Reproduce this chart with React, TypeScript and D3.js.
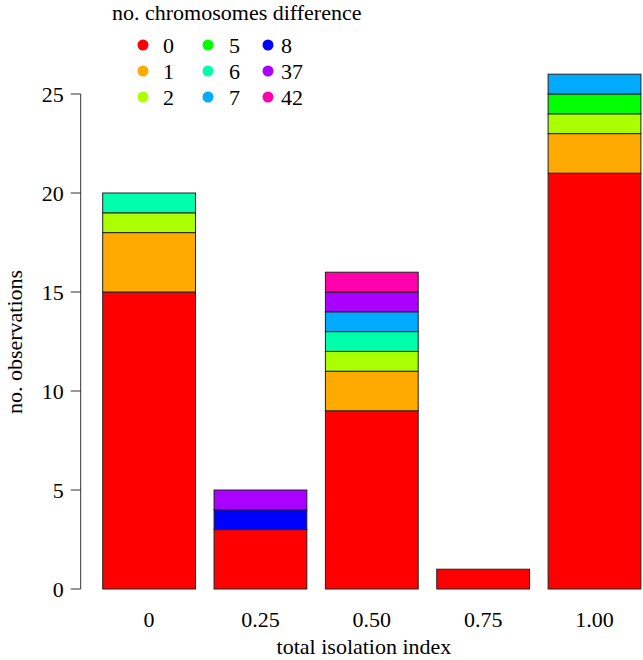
import React from "react";
import * as d3 from "d3";

const categories = ["0", "0.25", "0.50", "0.75", "1.00"];
const chromDiff = ["0", "1", "2", "5", "6", "7", "8", "37", "42"];
const colors = ["#FF0000", "#FFAA00", "#AAFF00", "#00FF00", "#00FFAA", "#00AAFF", "#0000FF", "#AA00FF", "#FF00AA"];
// counts per category, one array per chromosome difference
const d0 = [15, 3, 9, 1, 21];
const d1 = [3, 0, 2, 0, 2];
const d2 = [1, 0, 1, 0, 1];
const d5 = [0, 0, 0, 0, 1];
const d6 = [1, 0, 1, 0, 0];
const d7 = [0, 0, 1, 0, 1];
const d8 = [0, 1, 0, 0, 0];
const d37 = [0, 1, 1, 0, 0];
const d42 = [0, 0, 1, 0, 0];
const yTicks = [0, 5, 10, 15, 20, 25];

const series = [d0, d1, d2, d5, d6, d7, d8, d37, d42];

export default function App() {
  const W = 643, H = 660;
  const font = "Liberation Serif, Times New Roman, DejaVu Serif, serif";
  const rows = categories.map((c, i) => {
    const r: any = { cat: c };
    chromDiff.forEach((k, j) => (r[k] = series[j][i]));
    return r;
  });
  const stacked = d3.stack().keys(chromDiff)(rows);
  const x = d3.scaleBand().domain(categories).range([102.7, 640.9]).paddingInner(1 / 6).paddingOuter(0);
  const y = d3.scaleLinear().domain([0, 25]).range([589, 94]);
  const axisX = 80.7;
  const fs = 22;

  return (
    <svg width={W} height={H} style={{ position: "absolute", left: 0, top: 0, background: "#fff", fontFamily: font }}>
      {stacked.map((s, j) =>
        s.map((d, i) =>
          d[1] - d[0] > 0 ? (
            <rect key={`${j}-${i}`} x={x(categories[i])} width={x.bandwidth()} y={y(d[1])} height={y(d[0]) - y(d[1])}
              fill={colors[j]} stroke="#222" strokeWidth={1} />
          ) : null
        )
      )}
      {/* y axis */}
      <line x1={axisX} x2={axisX} y1={y(0)} y2={y(25)} stroke="#333" strokeWidth={1} />
      {yTicks.map((t) => (
        <g key={t}>
          <line x1={axisX - 10} x2={axisX} y1={y(t)} y2={y(t)} stroke="#333" strokeWidth={1} />
          <text x={axisX - 17} y={y(t)} dy="0.35em" textAnchor="end" fontSize={fs} style={{ fontFamily: font }}>{t}</text>
        </g>
      ))}
      {categories.map((c) => (
        <text key={c} x={(x(c) as number) + x.bandwidth() / 2} y={627} textAnchor="middle" fontSize={fs} style={{ fontFamily: font }}>{c}</text>
      ))}
      <text x={364} y={654} textAnchor="middle" fontSize={fs} style={{ fontFamily: font }}>total isolation index</text>
      <text transform={`translate(22,342) rotate(-90)`} textAnchor="middle" fontSize={fs} style={{ fontFamily: font }}>no. observations</text>
      {/* legend */}
      <text x={112} y={20} fontSize={fs} style={{ fontFamily: font }}>no. chromosomes difference</text>
      {chromDiff.map((k, j) => {
        const col = Math.floor(j / 3), row = j % 3;
        const dx = [143, 208, 268][col];
        const lx = [163, 229, 281][col];
        const cy = 45 + row * 26;
        return (
          <g key={k}>
            <circle cx={dx} cy={cy} r={5.5} fill={colors[j]} />
            <text x={lx} y={cy} dy="0.35em" fontSize={fs} style={{ fontFamily: font }}>{k}</text>
          </g>
        );
      })}
    </svg>
  );
}
